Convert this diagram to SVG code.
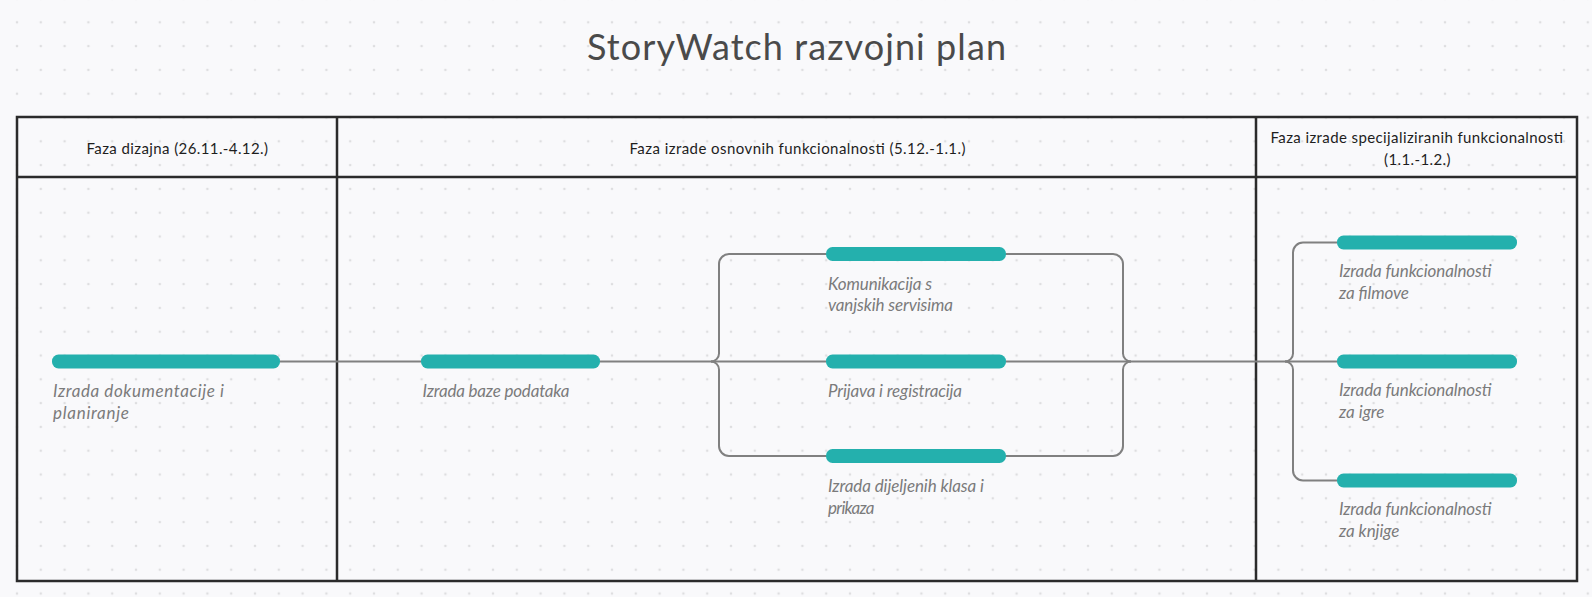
<svg xmlns="http://www.w3.org/2000/svg" width="1592" height="597" viewBox="0 0 1592 597">
  <defs>
    <pattern id="dots" x="5.1" y="10.4" width="23.8" height="23.8" patternUnits="userSpaceOnUse">
      <circle cx="11.9" cy="11.9" r="1.3" fill="#dedee0"/>
    </pattern>
    <style>
      .title { font-family: Lato, "Open Sans", sans-serif; font-size: 36px; fill: #4a4a4a; }
      .hdr { font-family: Lato, "Open Sans", sans-serif; font-size: 15px; fill: #1e1e1e; }
      .lbl { font-family: Lato, "Open Sans", sans-serif; font-size: 17px; font-style: italic; fill: #7b7b7b; }
      .bar { fill: #24b0ad; }
      .grid { fill: none; stroke: #2b2b2b; stroke-width: 2.5; }
      .conn { fill: none; stroke: #808080; stroke-width: 2; }
    </style>
  </defs>
  <rect width="1592" height="597" fill="#f9f9fb"/>
  <rect width="1592" height="597" fill="url(#dots)"/>

  <text class="title" x="587" y="60" textLength="419" lengthAdjust="spacing">StoryWatch razvojni plan</text>

  <g id="table">
    <rect class="grid" x="17" y="117" width="1560" height="464"/>
    <line class="grid" x1="17" y1="177" x2="1577" y2="177"/>
    <line class="grid" x1="337" y1="117" x2="337" y2="581"/>
    <line class="grid" x1="1256" y1="117" x2="1256" y2="581"/>
  </g>

  <g id="phase-design"><text class="hdr" x="86.5" y="154" textLength="181.5" lengthAdjust="spacing">Faza dizajna (26.11.-4.12.)</text></g>
  <g id="phase-basic"><text class="hdr" x="629.5" y="154" textLength="336" lengthAdjust="spacing">Faza izrade osnovnih funkcionalnosti (5.12.-1.1.)</text></g>
  <g id="phase-special">
    <text class="hdr" x="1270.5" y="143" textLength="292.5" lengthAdjust="spacing">Faza izrade specijaliziranih funkcionalnosti</text>
    <text class="hdr" x="1384" y="165" textLength="66.5" lengthAdjust="spacing">(1.1.-1.2.)</text>
  </g>

  <g id="connectors">
    <line class="conn" x1="280" y1="361.5" x2="421" y2="361.5"/>
    <line class="conn" x1="600" y1="361.5" x2="826" y2="361.5"/>
    <path class="conn" d="M711,361.5 A8,8 0 0 0 719,353.5 V264 A10,10 0 0 1 729,254 H826"/>
    <path class="conn" d="M711,361.5 A8,8 0 0 1 719,369.5 V446 A10,10 0 0 0 729,456 H826"/>
    <line class="conn" x1="1006" y1="361.5" x2="1337" y2="361.5"/>
    <path class="conn" d="M1006,254 H1113 A10,10 0 0 1 1123,264 V353.5 A8,8 0 0 0 1131,361.5"/>
    <path class="conn" d="M1006,456 H1113 A10,10 0 0 0 1123,446 V369.5 A8,8 0 0 1 1131,361.5"/>
    <path class="conn" d="M1285,361.5 A8,8 0 0 0 1293,353.5 V252.5 A10,10 0 0 1 1303,242.5 H1337"/>
    <path class="conn" d="M1285,361.5 A8,8 0 0 1 1293,369.5 V470.5 A10,10 0 0 0 1303,480.5 H1337"/>
  </g>

  <g id="task-doc">
    <rect class="bar" x="52" y="354.5" width="228" height="14" rx="6.5"/>
    <text class="lbl" x="53" y="397" textLength="171" lengthAdjust="spacing">Izrada dokumentacije i</text>
    <text class="lbl" x="53" y="418.5" textLength="76" lengthAdjust="spacing">planiranje</text>
  </g>
  <g id="task-db">
    <rect class="bar" x="421" y="354.5" width="179" height="14" rx="6.5"/>
    <text class="lbl" x="422.5" y="397" textLength="147" lengthAdjust="spacing">Izrada baze podataka</text>
  </g>
  <g id="task-comm">
    <rect class="bar" x="826" y="247" width="180" height="14" rx="6.5"/>
    <text class="lbl" x="828" y="289.5" textLength="104" lengthAdjust="spacing">Komunikacija s</text>
    <text class="lbl" x="828" y="311" textLength="125" lengthAdjust="spacing">vanjskih servisima</text>
  </g>
  <g id="task-login">
    <rect class="bar" x="826" y="354.5" width="180" height="14" rx="6.5"/>
    <text class="lbl" x="828" y="396.5" textLength="134" lengthAdjust="spacing">Prijava i registracija</text>
  </g>
  <g id="task-shared">
    <rect class="bar" x="826" y="449" width="180" height="14" rx="6.5"/>
    <text class="lbl" x="828" y="492" textLength="156" lengthAdjust="spacing">Izrada dijeljenih klasa i</text>
    <text class="lbl" x="828" y="513.5" textLength="46.5" lengthAdjust="spacing">prikaza</text>
  </g>
  <g id="task-films">
    <rect class="bar" x="1337" y="235.5" width="180" height="14" rx="6.5"/>
    <text class="lbl" x="1339" y="277" textLength="152.5" lengthAdjust="spacing">Izrada funkcionalnosti</text>
    <text class="lbl" x="1339" y="298.5" textLength="70" lengthAdjust="spacing">za filmove</text>
  </g>
  <g id="task-games">
    <rect class="bar" x="1337" y="354.5" width="180" height="14" rx="6.5"/>
    <text class="lbl" x="1339" y="396" textLength="152.5" lengthAdjust="spacing">Izrada funkcionalnosti</text>
    <text class="lbl" x="1339" y="417.5" textLength="45.5" lengthAdjust="spacing">za igre</text>
  </g>
  <g id="task-books">
    <rect class="bar" x="1337" y="473.5" width="180" height="14" rx="6.5"/>
    <text class="lbl" x="1339" y="515" textLength="152.5" lengthAdjust="spacing">Izrada funkcionalnosti</text>
    <text class="lbl" x="1339" y="536.5" textLength="60.5" lengthAdjust="spacing">za knjige</text>
  </g>
</svg>
